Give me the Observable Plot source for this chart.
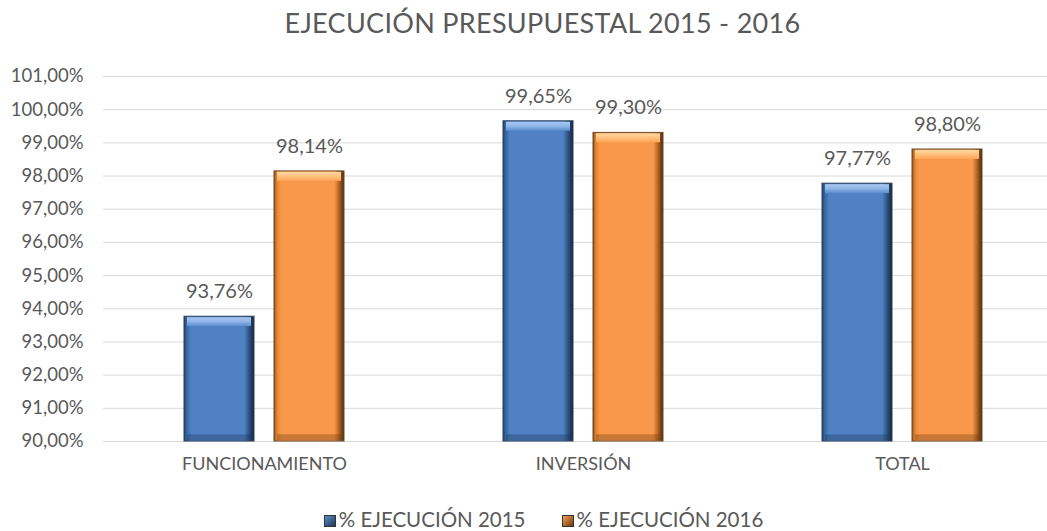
<!DOCTYPE html>
<html>
<head>
<meta charset="utf-8">
<script src="https://cdn.jsdelivr.net/npm/d3@7"></script>
<script src="https://cdn.jsdelivr.net/npm/@observablehq/plot@0.6"></script>
<style>
  html, body { margin: 0; padding: 0; background: #fff; overflow: hidden; width: 1047px; height: 531px; }
  body { font-family: Lato, "Open Sans", sans-serif; color: #595959; }
  #title { height: 46px; line-height: 46px; text-align: center; font-size: 27px; color: #595959; letter-spacing: 0.3px; padding-left: 38px; }
  #chart { width: 1062px; }
  #chart svg { display: block; max-width: none !important; }
  #legend { text-align: center; font-size: 20.5px; color: #595959; margin-top: 9px; width: 1087px; line-height: 24px; }
  .sw { display: inline-block; width: 12px; height: 12px; margin-right: 3px; vertical-align: 0px; border: 1px solid #333; box-sizing: border-box; }
  .item { margin: 0 18px; }
</style>
</head>
<body>
<div id="title">EJECUCIÓN PRESUPUESTAL 2015 - 2016</div>
<div id="chart"></div>
<div id="legend"></div>
<script>
// Data
const categories = ["FUNCIONAMIENTO", "INVERSIÓN", "TOTAL"];
const series = ["% EJECUCIÓN 2015", "% EJECUCIÓN 2016"];
const values2015 = [93.76, 99.65, 97.77];
const values2016 = [98.14, 99.30, 98.80];
const yTicks = [90, 91, 92, 93, 94, 95, 96, 97, 98, 99, 100, 101];

const data2015 = categories.map((c, i) => ({cat: c, v: values2015[i]}));
const data2016 = categories.map((c, i) => ({cat: c, v: values2016[i]}));
const fmt = d => d.toFixed(2).replace(".", ",") + "%";

const base = 90;
const textColor = "#595959";

function barSet(data, side, gBody, gTop, bottomFill, stroke) {
  const inset = side === "left" ? {insetRight: 90} : {insetLeft: 90};
  const insetIn = side === "left" ? {insetRight: 93, insetLeft: 3} : {insetLeft: 93, insetRight: 3};
  const dx = side === "left" ? -45 : 45;
  return [
    Plot.barY(data, {x: "cat", y1: base, y2: "v", fill: gBody, stroke: stroke, strokeWidth: 1, ...inset}),
    Plot.barY(data, {x: "cat", y1: d => d.v - 0.3, y2: "v", fill: gTop, ...insetIn, insetTop: 1}),
    Plot.barY(data, {x: "cat", y1: base, y2: base + 0.2, fill: bottomFill, fillOpacity: 0.35, ...insetIn, insetBottom: 1}),
    Plot.text(data, {x: "cat", y: "v", text: d => fmt(d.v), dx: dx, dy: -25, fontSize: 20, fill: textColor})
  ];
}

const svg = Plot.plot({
  width: 1062,
  height: 452,
  marginLeft: 103,
  marginRight: 0,
  marginTop: 30,
  marginBottom: 57,
  style: {fontFamily: "Lato, 'Open Sans', sans-serif", color: textColor, background: "white", maxWidth: "none"},
  x: {domain: categories, paddingInner: 0.5, paddingOuter: 0.25, label: null, tickSize: 0, tickPadding: 18},
  y: {domain: [90, 101], ticks: yTicks, tickFormat: fmt, label: null, tickSize: 0, tickPadding: 20},
  marks: [
    Plot.ruleY(yTicks, {stroke: "#d9d9d9", strokeWidth: 1}),
    Plot.axisY({ticks: yTicks, tickFormat: fmt, tickSize: 0, tickPadding: 20, fontSize: 18.5, fill: textColor, label: null}),
    Plot.axisX({tickSize: 0, tickPadding: 16, fontSize: 18, fill: textColor, label: null}),
    ...barSet(data2015, "left", "url(#gBlue)", "url(#gBlueTop)", "#1d3557", "#2b3f5c"),
    ...barSet(data2016, "right", "url(#gOrange)", "url(#gOrangeTop)", "#6b3a10", "#6b4a2c")
  ]
});

// gradient definitions for the bevel look
const ns = "http://www.w3.org/2000/svg";
const defs = document.createElementNS(ns, "defs");
function grad(id, stops, vertical) {
  const g = document.createElementNS(ns, "linearGradient");
  g.setAttribute("id", id);
  g.setAttribute("x1", "0"); g.setAttribute("y1", "0");
  g.setAttribute("x2", vertical ? "0" : "1"); g.setAttribute("y2", vertical ? "1" : "0");
  for (const [o, c] of stops) {
    const s = document.createElementNS(ns, "stop");
    s.setAttribute("offset", o); s.setAttribute("stop-color", c);
    g.appendChild(s);
  }
  defs.appendChild(g);
}
grad("gBlue", [[0, "#24406a"], [0.04, "#3a66a0"], [0.1, "#4f81c4"], [0.86, "#4f81c4"], [0.92, "#34598c"], [1, "#15243a"]]);
grad("gBlueTop", [[0, "#a9c8f0"], [0.5, "#8fb5e8"], [1, "#5a8bcc"]], true);
grad("gOrange", [[0, "#8a4c16"], [0.04, "#e2842f"], [0.1, "#f9984a"], [0.86, "#f9984a"], [0.92, "#c06a25"], [1, "#4a2a0c"]]);
grad("gOrangeTop", [[0, "#ffd9a2"], [0.5, "#ffc07c"], [1, "#fba458"]], true);
svg.insertBefore(defs, svg.firstChild);
svg.style.maxWidth = "none";

document.getElementById("chart").appendChild(svg);

// legend
const legend = document.getElementById("legend");
const swatchColors = ["linear-gradient(135deg,#5a8ccc,#1f3658)", "linear-gradient(135deg,#f9a050,#6b3a10)"];
series.forEach((s, i) => {
  const span = document.createElement("span");
  span.className = "item";
  span.innerHTML = `<span class="sw" style="background:${swatchColors[i]}"></span>${s}`;
  legend.appendChild(span);
});
</script>
</body>
</html>
